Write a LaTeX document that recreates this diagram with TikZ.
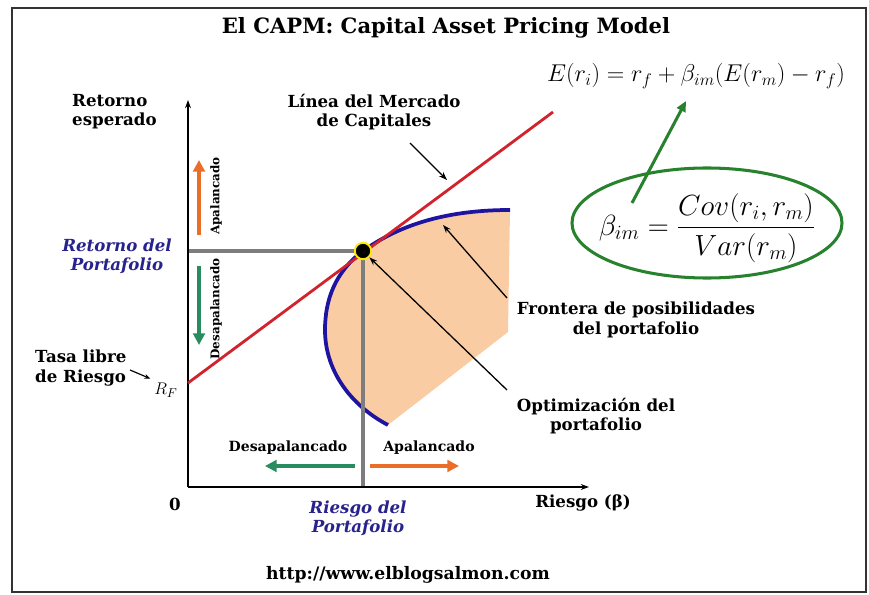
\documentclass[tikz,border=0pt]{standalone}
\usepackage{amsmath}
\usepackage{fontspec}
\setmainfont{DejaVu Serif}
\usetikzlibrary{arrows.meta, shapes.geometric}
\definecolor{cmlred}{RGB}{210,35,45}
\definecolor{frontblue}{RGB}{30,20,160}
\definecolor{peach}{RGB}{250,204,164}
\definecolor{levorange}{RGB}{235,110,40}
\definecolor{delevgreen}{RGB}{40,140,95}
\definecolor{betagreen}{RGB}{40,130,45}
\definecolor{navy}{RGB}{40,35,140}
\definecolor{guidegray}{RGB}{125,125,125}

\begin{document}
\begin{tikzpicture}[x=0.03cm,y=-0.03cm,
    lbl/.style={font=\bfseries\fontsize{14.2}{16.5}\selectfont, align=center, inner sep=0pt},
    bluelbl/.style={align=center, inner sep=0pt, text=navy, font=\bfseries\itshape\fontsize{14.2}{16.5}\selectfont},
    small/.style={font=\bfseries\fontsize{10.2}{12}\selectfont, inner sep=0pt},
    smallh/.style={font=\bfseries\fontsize{12}{14}\selectfont, inner sep=0pt},
    fatarrow/.style={line width=4pt, -{Triangle[length=10pt,width=10pt]}},
    pointer/.style={line width=1.1pt, -{Stealth[length=7pt,width=5pt]}}]
    \useasboundingbox (0,0) rectangle (869,595);
    \draw[line width=2.2pt, black!80] (12,8) rectangle (866,592);

    \node[font=\bfseries\fontsize{18}{21}\selectfont] (title) at (446,28) {El CAPM: Capital Asset Pricing Model};
    \node[font=\fontsize{20.5}{24}\selectfont] (capm) at (696,76) {$E(r_i) = r_f + \beta_{im}(E(r_m) - r_f)$};

    \coordinate (O) at (188,487);
    \coordinate (ytop) at (188,100);
    \coordinate (xend) at (589,487);
    \coordinate (rf) at (188,383);
    \coordinate (cmlend) at (553,112);
    \coordinate (opt) at (363,251);
    \coordinate (ret) at (188,251);
    \coordinate (risk) at (363,487);

    \fill[peach] (510,210) .. controls (440,210) and (395,228) .. (opt)
        .. controls (335,272) and (325,300) .. (325,330)
        .. controls (325,370) and (350,405) .. (388,425) -- (508,332) -- cycle;
    \draw[line width=3.2pt, frontblue] (510,210) .. controls (440,210) and (395,228) .. (opt)
        .. controls (335,272) and (325,300) .. (325,330)
        .. controls (325,370) and (350,405) .. (388,425);

    \draw[line width=3pt, guidegray] (ret) -- (opt) -- (risk);
    \draw[line width=1.7pt, -{Stealth[length=7pt,width=5pt]}] (O) -- (ytop);
    \draw[line width=1.7pt, -{Stealth[length=7pt,width=5pt]}] (O) -- (xend);
    \draw[line width=2.4pt, cmlred] (rf) -- (cmlend);
    \node[circle, fill=black, draw=yellow!90!orange, line width=1.6pt, minimum size=14pt, inner sep=0pt] (optdot) at (opt) {};

    \node[lbl, anchor=west, align=left] (retesp) at (72,112) {Retorno\\esperado};
    \node[lbl] (zero) at (175,504) {0};
    \node[lbl] (riesgo) at (583,503) {Riesgo (β)};
    \node[bluelbl] (retport) at (117,256) {Retorno del\\Portafolio};
    \node[bluelbl] (riskport) at (358,518) {Riesgo del\\Portafolio};
    \node[lbl, anchor=west, align=left] (tasa) at (35,368) {Tasa libre\\de Riesgo};
    \node[font=\fontsize{15}{17}\selectfont] (rflbl) at (166,390) {$R_F$};
    \node[lbl] (lmc) at (374,112) {Línea del Mercado\\de Capitales};
    \node[lbl] (front) at (636,320) {Frontera de posibilidades\\del portafolio};
    \node[lbl] (optlbl) at (596,416) {Optimización del\\portafolio};
    \node[lbl, font=\bfseries\fontsize{14.7}{17}\selectfont] (url) at (408,575) {http://www.elblogsalmon.com};

    \node[small, rotate=90] (apv) at (216,196) {Apalancado};
    \node[small, rotate=90] (desv) at (216,309) {Desapalancado};
    \node[smallh] (desh) at (288,448) {Desapalancado};
    \node[smallh] (aph) at (429,448) {Apalancado};
    \draw[fatarrow, levorange] (199,235) -- (199,160);
    \draw[fatarrow, delevgreen] (199,266) -- (199,345);
    \draw[fatarrow, delevgreen] (355,466) -- (265,466);
    \draw[fatarrow, levorange] (370,466) -- (459,466);

    \coordinate (lmctail) at (410,143);
    \coordinate (lmctip) at (447,180);
    \coordinate (fronttail) at (507,298);
    \coordinate (fronttip) at (443,225);
    \coordinate (opttail) at (507,390);
    \coordinate (tasatail) at (130,370);
    \draw[pointer] (lmctail) -- (lmctip);
    \draw[pointer] (fronttail) -- (fronttip);
    \draw[pointer] (opttail) -- (optdot.south east);
    \draw[line width=1pt, -{Stealth[length=5pt,width=4pt]}] (tasatail) -- (rflbl.north west);

    \node[ellipse, draw=betagreen, line width=2.6pt, minimum width=8.1cm, minimum height=3.3cm, inner sep=0pt] (betaoval) at (707,223) {};
    \node[font=\fontsize{24}{28}\selectfont] (beta) at (707,228) {$\beta_{im} = \dfrac{Cov(r_i, r_m)}{Var(r_m)}$};
    \coordinate (betatail) at (632,203);
    \coordinate (capmtip) at (686,101);
    \draw[betagreen, line width=2.6pt, -{Triangle[length=9pt,width=8pt]}] (betatail) -- (capmtip);
\end{tikzpicture}
\end{document}
